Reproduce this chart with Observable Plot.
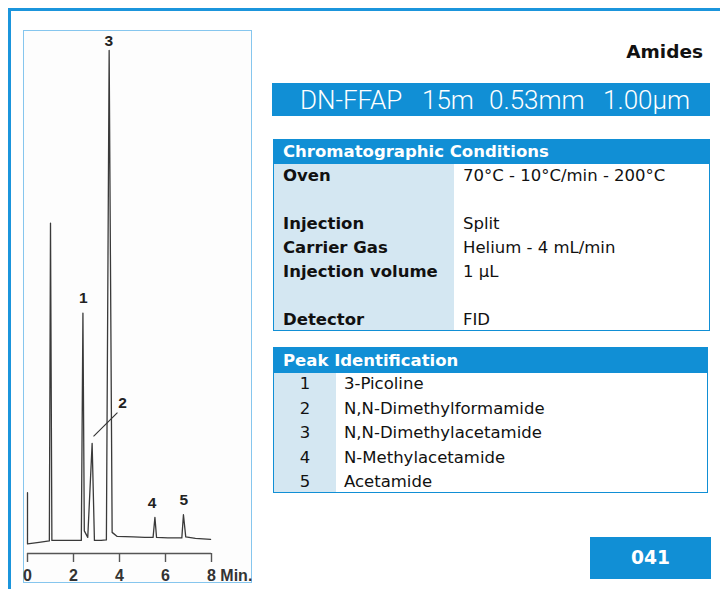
<!DOCTYPE html>
<html>
<head>
<meta charset="utf-8">
<script src="https://cdn.jsdelivr.net/npm/d3@7"></script>
<script src="https://cdn.jsdelivr.net/npm/@observablehq/plot@0.6"></script>
<style>
  html, body { margin: 0; padding: 0; background: #fff; }
  #page { position: relative; width: 720px; height: 589px; overflow: hidden; background: #fff; }
  .abs { position: absolute; }
  #frame { left: 8px; top: 8px; width: 712px; height: 590px; border-top: 3px solid #1b95dc; border-left: 3px solid #1b95dc; box-sizing: border-box; }
  #panel { left: 23px; top: 30px; width: 229px; height: 553px; border: 1px solid #86c6ee; box-sizing: border-box; background: #fdfdfd; }
  #chart { position: absolute; left: 0; top: 0; }
  #title { right: 17px; top: 40px; font: bold 18.5px "DejaVu Sans", sans-serif; color: #111; line-height: 24px; }
  #banner { left: 272px; top: 83px; width: 438px; height: 33px; background: #118fd5; }
  .bw { position: absolute; top: 4px; font: 300 26px Roboto, sans-serif; color: #fff; line-height: 26px; white-space: pre; }
  .tbl { border: 1px solid #118fd5; box-sizing: border-box; background: #fff; }
  .hdr { position: absolute; left: 0; top: 0; right: 0; background: #118fd5; color: #fff; font: bold 16.5px "DejaVu Sans", sans-serif; padding-left: 9px; box-sizing: border-box; }
  .lcol { position: absolute; left: 0; background: #d4e7f2; }
  .row { position: absolute; font: 16.5px "DejaVu Sans", sans-serif; color: #111; white-space: pre; line-height: 24px; }
  .lbl { font-weight: bold; }
  #badge { left: 590px; top: 537px; width: 121px; height: 42px; background: #118fd5; color: #fff; font: bold 18.7px "DejaVu Sans", sans-serif; text-align: center; line-height: 42px; }
</style>
</head>
<body>
<div id="page">
  <div id="frame" class="abs"></div>
  <div id="panel" class="abs"><div id="chart"></div></div>
  <div id="title" class="abs"></div>
  <div id="banner" class="abs"></div>
  <div id="cond" class="abs tbl"></div>
  <div id="peaks" class="abs tbl"></div>
  <div id="badge" class="abs"></div>
</div>
<script>
// ---- Data ----
const titleText = "Amides";
const columnWords = ["DN-FFAP", "15m", "0.53mm", "1.00µm"];
const condHeader = "Chromatographic Conditions";
const condLabels = ["Oven", "", "Injection", "Carrier Gas", "Injection volume", "", "Detector"];
const condValues = ["70°C - 10°C/min - 200°C", "", "Split", "Helium - 4 mL/min", "1 µL", "", "FID"];
const peakHeader = "Peak Identification";
const peakNumbers = ["1", "2", "3", "4", "5"];
const peakNames = ["3-Picoline", "N,N-Dimethylformamide", "N,N-Dimethylacetamide", "N-Methylacetamide", "Acetamide"];
const appNumber = "041";

// chromatogram trace (time in min, relative signal)
const traceTime = [0, 0, 0.5, 0.95, 1.0, 1.06, 1.5, 2.0, 2.34, 2.41, 2.47, 2.62, 2.81, 2.91, 3.2, 3.43, 3.55, 3.68, 3.9, 4.6, 5.1, 5.46, 5.54, 5.61, 6.1, 6.71, 6.78, 6.88, 7.3, 7.96];
const traceSignal = [12.1, 1.9, 2.2, 2.5, 65.7, 2.6, 2.6, 2.6, 2.6, 47.8, 4.5, 3.2, 21.9, 2.6, 2.6, 2.7, 100, 4.2, 3.4, 3.3, 3.2, 3.2, 7.2, 3.2, 3.1, 3.1, 7.7, 3.3, 3.0, 2.8];

// peak labels (label position in time / signal units)
const peakLabelText = ["1", "2", "3", "4", "5"];
const peakLabelTime = [2.43, 4.13, 3.53, 5.42, 6.80];
const peakLabelSignal = [49.8, 29.0, 100.8, 9.1, 9.7];
// leader line for peak 2
const leaderFrom = {t: 2.87, v: 23.3};
const leaderTo = {t: 3.91, v: 28.0};

const xTicks = [0, 2, 4, 6, 8];
const xUnit = "Min.";

// ---- Chart ----
const trace = traceTime.map((t, i) => ({t, v: traceSignal[i]}));
const labels = peakLabelText.map((s, i) => ({s, t: peakLabelTime[i], v: peakLabelSignal[i]}));
const innerTicks = xTicks.slice(0, -1);
const lastTick = xTicks[xTicks.length - 1];

const chart = Plot.plot({
  width: 227, height: 551,
  marginLeft: 3, marginRight: 40, marginTop: 19, marginBottom: 29,
  x: {domain: [0, 8]},
  y: {domain: [0, 100], axis: null},
  style: {background: "transparent", fontFamily: "'Liberation Sans', Arial, sans-serif", overflow: "visible"},
  marks: [
    Plot.line(trace, {x: "t", y: "v", stroke: "#3a3a3a", strokeWidth: 1.3, curve: "linear"}),
    Plot.ruleY([0], {stroke: "#555", strokeWidth: 1.6}),
    Plot.axisX({ticks: xTicks, tickSize: 9, stroke: "#555", strokeWidth: 1.4, tickFormat: () => "", fill: "none"}),
    Plot.text(innerTicks, {x: d => d, text: d => String(d), frameAnchor: "bottom", dy: 16, lineAnchor: "top", textAnchor: "middle", fontSize: 16, fontWeight: "bold", fill: "#333"}),
    Plot.text([lastTick], {x: d => d, text: d => d + " " + xUnit, frameAnchor: "bottom", dy: 16, dx: -4.5, lineAnchor: "top", textAnchor: "start", fontSize: 16, fontWeight: "bold", fill: "#333"}),
    Plot.link([0], {x1: () => leaderFrom.t, y1: () => leaderFrom.v, x2: () => leaderTo.t, y2: () => leaderTo.v, stroke: "#333", strokeWidth: 1.1}),
    Plot.text(labels, {x: "t", y: "v", text: "s", lineAnchor: "bottom", fontSize: 15.5, fontWeight: "bold", fill: "#222"})
  ]
});
document.getElementById("chart").appendChild(chart);

// ---- Text panels ----
document.getElementById("title").textContent = titleText;
const banner = document.getElementById("banner");
const wordLeft = [28, 150, 217, 331];
columnWords.forEach((w, i) => {
  const s = document.createElement("span");
  s.className = "bw"; s.style.left = wordLeft[i] + "px"; s.textContent = w;
  banner.appendChild(s);
});

function buildTable(el, opt) {
  Object.assign(el.style, {left: opt.left + "px", top: opt.top + "px", width: opt.width + "px", height: opt.height + "px"});
  const col = document.createElement("div");
  col.className = "lcol";
  Object.assign(col.style, {top: opt.hdrH + "px", width: opt.colW + "px", bottom: "0px"});
  el.appendChild(col);
  const h = document.createElement("div");
  h.className = "hdr";
  Object.assign(h.style, {height: opt.hdrH + "px", lineHeight: opt.hdrH + "px"});
  h.textContent = opt.header;
  el.appendChild(h);
  opt.left1.forEach((txt, i) => {
    const a = document.createElement("div");
    a.className = "row" + (opt.boldLeft ? " lbl" : "");
    Object.assign(a.style, {top: (opt.rowTop + i * opt.rowH) + "px", lineHeight: opt.rowH + "px"});
    if (opt.centerLeft) { a.style.left = "0px"; a.style.width = opt.colW + "px"; a.style.textAlign = "center"; }
    else a.style.left = opt.padL + "px";
    a.textContent = txt;
    el.appendChild(a);
    const b = document.createElement("div");
    b.className = "row";
    Object.assign(b.style, {top: (opt.rowTop + i * opt.rowH) + "px", left: opt.valX + "px", lineHeight: opt.rowH + "px"});
    b.textContent = opt.right1[i];
    el.appendChild(b);
  });
}
buildTable(document.getElementById("cond"), {
  left: 273, top: 139, width: 437, height: 192, hdrH: 24, colW: 180,
  header: condHeader, left1: condLabels, right1: condValues, boldLeft: true,
  padL: 9, valX: 189, rowTop: 24, rowH: 24
});
buildTable(document.getElementById("peaks"), {
  left: 273, top: 347, width: 435, height: 146, hdrH: 25, colW: 62,
  header: peakHeader, left1: peakNumbers, right1: peakNames, boldLeft: false, centerLeft: true,
  padL: 0, valX: 70, rowTop: 24, rowH: 24.5
});
document.getElementById("badge").textContent = appNumber;
</script>
</body>
</html>
